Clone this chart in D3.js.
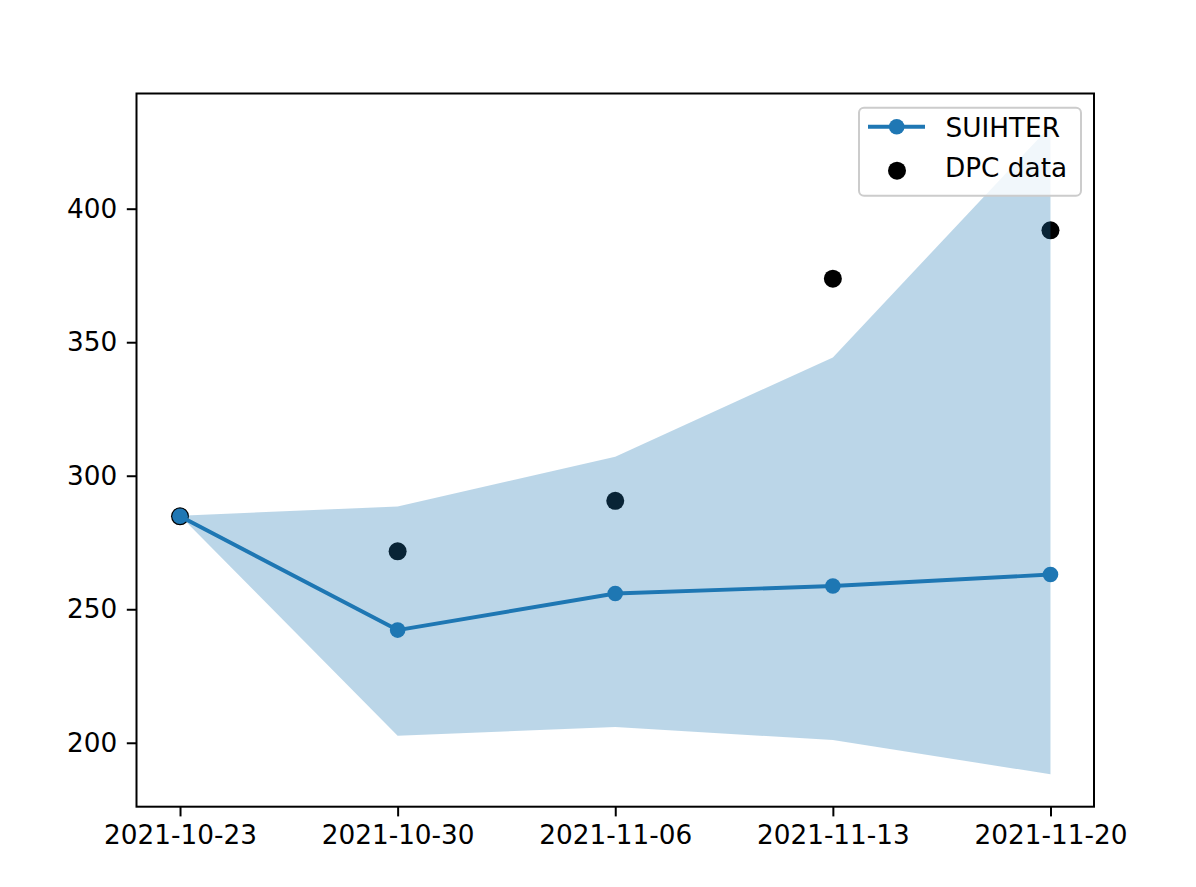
<!DOCTYPE html>
<html>
<head>
<meta charset="utf-8">
<script src="https://cdn.jsdelivr.net/npm/d3@7"></script>
<style>
  body { margin: 0; background: #fff; }
  svg text { font-family: "DejaVu Sans", sans-serif; }
</style>
</head>
<body>
<div id="chart"></div>
<script>
// values
const dates    = ["2021-10-23", "2021-10-30", "2021-11-06", "2021-11-13", "2021-11-20"];
const suihter  = [284.8, 242.2, 255.9, 258.7, 263.0];
const dpcData  = [284.8, 271.7, 290.6, 373.8, 391.9];
const bandLow  = [285.0, 202.6, 205.9, 201.0, 188.2];
const bandHigh = [285.0, 288.5, 307.1, 344.3, 431.0];
const yTicks   = [200, 250, 300, 350, 400];

const WD = 1196, HT = 887;
const margin = { left: 136.5, right: 102, top: 93.5, bottom: 80.3 };
const width = WD - margin.left - margin.right;
const height = HT - margin.top - margin.bottom;

const blue = "#1f77b4";
const fontPx = 26.3;

const parse = d3.utcParse("%Y-%m-%d");
const fmt = d3.utcFormat("%Y-%m-%d");
const days = dates.map(parse);

const rows = days.map((d, i) => ({
  date: d, s: suihter[i], dpc: dpcData[i], lo: bandLow[i], hi: bandHigh[i]
}));

// matplotlib style 5% padding on both axes
const xExt = d3.extent(days);
const xPad = (xExt[1] - xExt[0]) * 0.05;
const xs = d3.scaleUtc()
  .domain([new Date(+xExt[0] - xPad), new Date(+xExt[1] + xPad)])
  .range([0, width]);

const yMin = d3.min([bandLow, suihter, dpcData].flat());
const yMax = d3.max([bandHigh, suihter, dpcData].flat());
const yPad = (yMax - yMin) * 0.05;
const ys = d3.scaleLinear()
  .domain([yMin - yPad, yMax + yPad])
  .range([height, 0]);

const svg = d3.select("#chart").append("svg")
  .attr("width", WD)
  .attr("height", HT);

const g = svg.append("g")
  .attr("transform", "translate(" + margin.left + "," + margin.top + ")");

g.append("clipPath").attr("id", "plotclip")
  .append("rect").attr("width", width).attr("height", height);

const plot = g.append("g").attr("clip-path", "url(#plotclip)");

// DPC data scatter (drawn first so the band tints it)
plot.selectAll("circle.dpc")
  .data(rows)
  .enter().append("circle")
    .attr("class", "dpc")
    .attr("cx", d => xs(d.date))
    .attr("cy", d => ys(d.dpc))
    .attr("r", 9)
    .attr("fill", "#000");

// SUIHTER line with markers
const line = d3.line().x(d => xs(d.date)).y(d => ys(d.s));
plot.append("path")
  .datum(rows)
  .attr("d", line)
  .attr("fill", "none")
  .attr("stroke", blue)
  .attr("stroke-width", 3.9)
  .attr("stroke-linejoin", "round");

plot.selectAll("circle.sui")
  .data(rows)
  .enter().append("circle")
    .attr("class", "sui")
    .attr("cx", d => xs(d.date))
    .attr("cy", d => ys(d.s))
    .attr("r", 7.8)
    .attr("fill", blue);

// confidence band
const area = d3.area()
  .x(d => xs(d.date))
  .y0(d => ys(d.lo))
  .y1(d => ys(d.hi));
plot.append("path")
  .datum(rows)
  .attr("d", area)
  .attr("fill", blue)
  .attr("fill-opacity", 0.3);

// axes
const xAxis = d3.axisBottom(xs)
  .tickValues(days)
  .tickFormat(fmt)
  .tickSize(9.7)
  .tickPadding(9);
const yAxis = d3.axisLeft(ys)
  .tickValues(yTicks)
  .tickSize(9.7)
  .tickPadding(9.5);

const gx = g.append("g")
  .attr("transform", "translate(0," + height + ")")
  .call(xAxis);
const gy = g.append("g").call(yAxis);

[gx, gy].forEach(a => {
  a.select(".domain").remove();
  a.selectAll(".tick line").attr("stroke", "#000").attr("stroke-width", 2);
  a.selectAll(".tick text")
    .attr("fill", "#000")
    .style("font-size", fontPx + "px");
});

// frame
g.append("rect")
  .attr("width", width)
  .attr("height", height)
  .attr("fill", "none")
  .attr("stroke", "#000")
  .attr("stroke-width", 2);

// legend
const lg = g.append("g")
  .attr("transform", "translate(" + (859 - margin.left) + "," + (107.7 - margin.top) + ")");

lg.append("rect")
  .attr("width", 222)
  .attr("height", 88)
  .attr("rx", 5)
  .attr("fill", "#fff")
  .attr("fill-opacity", 0.8)
  .attr("stroke", "#cccccc")
  .attr("stroke-width", 2);

lg.append("line")
  .attr("x1", 9).attr("x2", 66)
  .attr("y1", 19).attr("y2", 19)
  .attr("stroke", blue)
  .attr("stroke-width", 3.9);
lg.append("circle")
  .attr("cx", 37.7).attr("cy", 19).attr("r", 7.8)
  .attr("fill", blue);
lg.append("text")
  .attr("x", 86.5).attr("y", 29.5)
  .style("font-size", fontPx + "px")
  .attr("fill", "#000")
  .text("SUIHTER");

lg.append("circle")
  .attr("cx", 38).attr("cy", 63).attr("r", 9)
  .attr("fill", "#000");
lg.append("text")
  .attr("x", 86).attr("y", 69.5)
  .style("font-size", fontPx + "px")
  .attr("fill", "#000")
  .text("DPC data");
</script>
</body>
</html>
